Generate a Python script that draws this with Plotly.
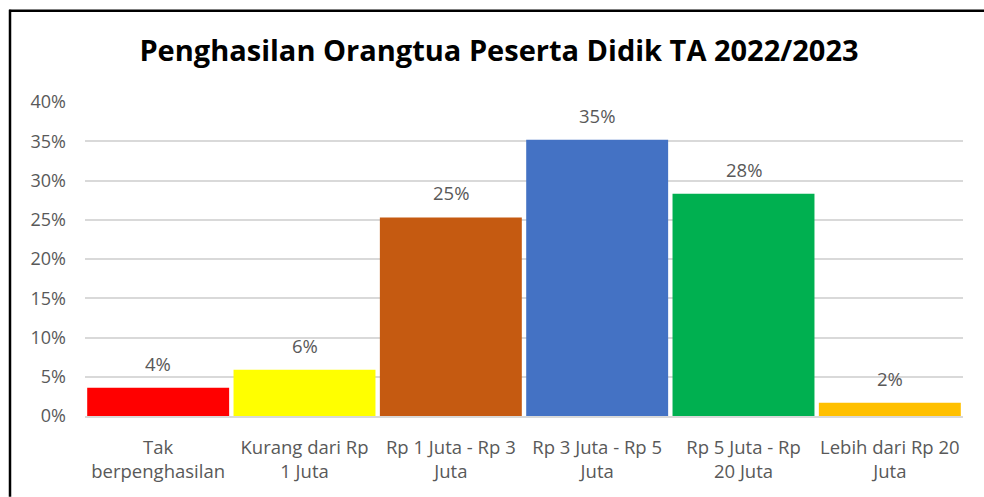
import plotly.graph_objects as go

categories = [
    "Tak<br>berpenghasilan",
    "Kurang dari Rp<br>1 Juta",
    "Rp 1 Juta - Rp 3<br>Juta",
    "Rp 3 Juta - Rp 5<br>Juta",
    "Rp 5 Juta - Rp<br>20 Juta",
    "Lebih dari Rp 20<br>Juta",
]
values = [0.036, 0.059, 0.253, 0.352, 0.283, 0.017]
colors = ["#FF0000", "#FFFF00", "#C55A11", "#4472C4", "#00B050", "#FFC000"]
y_ticks = [0, 0.05, 0.10, 0.15, 0.20, 0.25, 0.30, 0.35, 0.40]
title_text = "Penghasilan Orangtua Peserta Didik TA 2022/2023"

W, H = 984, 497
L, R, T, B = 85, 21, 101.5, 81
pw, ph = W - L - R, H - T - B

def px_x(px):
    return (px - L) / pw

def px_y(py):
    return (H - B - py) / ph

fig = go.Figure()
fig.add_trace(go.Bar(
    x=categories, y=values, marker_color=colors,
    marker_line_width=0, hoverinfo="skip",
))

for c, v in zip(categories, values):
    fig.add_annotation(
        x=c, y=v, text=f"{round(v*100):d}%", showarrow=False,
        yanchor="bottom", yshift=10,
        font=dict(family="Open Sans", size=18.5, color="#595959"),
    )

fig.update_layout(
    width=W, height=H,
    margin=dict(l=L, r=R, t=T, b=B, autoexpand=False),
    paper_bgcolor="white", plot_bgcolor="white",
    bargap=0.03,
    showlegend=False,
    title=dict(
        text=f"<b>{title_text}</b>",
        x=499 / W, xref="container", xanchor="center",
        y=1 - 51 / H, yref="container", yanchor="middle",
        font=dict(family="Open Sans", size=29, color="#000000"),
    ),
    xaxis=dict(
        showgrid=False, ticks="", showline=True, linecolor="#d9d9d9", linewidth=2,
        tickfont=dict(family="Open Sans", size=18.5, color="#595959"),
        ticklabelstandoff=14,
    ),
    yaxis=dict(
        range=[0, 0.40], tickvals=y_ticks, tickformat=".0%",
        showgrid=True, gridcolor="#d9d9d9", gridwidth=1.5,
        zeroline=False, showline=False, ticks="",
        tickfont=dict(family="Open Sans", size=18, color="#595959"),
        ticklabelstandoff=18,
    ),
    shapes=[
        dict(type="line", xref="paper", yref="paper",
             x0=px_x(9), x1=px_x(984), y0=px_y(10), y1=px_y(10),
             line=dict(color="black", width=2.5)),
        dict(type="line", xref="paper", yref="paper",
             x0=px_x(10), x1=px_x(10), y0=px_y(9), y1=px_y(497),
             line=dict(color="black", width=2.5)),
    ],
)

fig.write_html("out.html")
